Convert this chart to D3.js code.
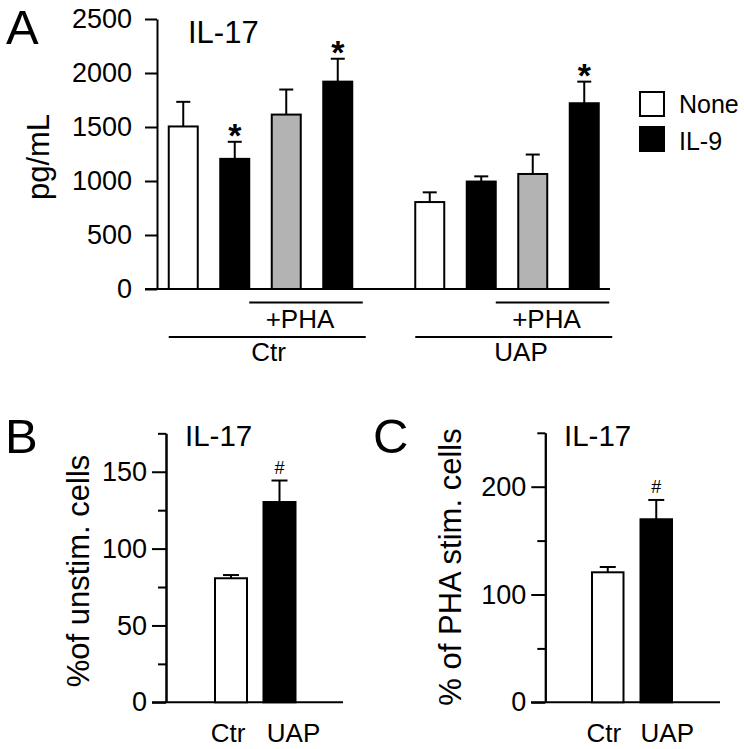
<!DOCTYPE html>
<html>
<head>
<meta charset="utf-8">
<script src="https://cdn.jsdelivr.net/npm/d3@7"></script>
<style>
  html, body { margin: 0; padding: 0; background: #fff; }
  svg { display: block; }
  text { font-family: "Liberation Sans", Arial, Helvetica, sans-serif; fill: #000; }
</style>
</head>
<body>
<svg id="chart" width="744" height="749"></svg>
<script>
// ---------- DATA ----------
// Panel A
const groupsA = ["Ctr", "UAP"];
const conditionsA = ["None", "IL-9", "PHA", "PHA+IL-9"];
const meansA = [1505, 1205, 1615, 1920, 805, 995, 1065, 1720];
const errorsA = [228, 158, 232, 212, 90, 48, 180, 200];
const starsA = [false, true, false, true, false, false, false, true];
const fillKeyA = ["none", "il9", "pha", "il9", "none", "il9", "pha", "il9"];
const ticksA = [0, 500, 1000, 1500, 2000, 2500];
const legendLabels = ["None", "IL-9"];

// Panel B
const categoriesB = ["Ctr", "UAP"];
const meansB = [80.7, 130.3];
const errorsB = [2.1, 14.0];
const marksB = ["", "#"];
const majorTicksB = [0, 50, 100, 150];
const minorTicksB = [25, 75, 125, 175];

// Panel C
const categoriesC = ["Ctr", "UAP"];
const meansC = [120.6, 169.8];
const errorsC = [4.9, 17.9];
const marksC = ["", "#"];
const majorTicksC = [0, 100, 200];
const minorTicksC = [50, 150, 250];

// ---------- STYLE ----------
const colors = { none: "#ffffff", il9: "#000000", pha: "#b3b3b3" };
const svg = d3.select("#chart");
const SW = 2;
const fmt = d3.format("d");

function styleAxis(g, fontSize) {
  g.attr("font-size", fontSize).attr("font-family", "Liberation Sans, Arial, sans-serif");
  g.selectAll("path.domain").attr("stroke", "#000").attr("stroke-width", SW);
  g.selectAll(".tick line").attr("stroke", "#000").attr("stroke-width", SW);
  g.selectAll(".tick text").attr("font-size", fontSize).attr("fill", "#000");
}

// ---------- PANEL A ----------
(function () {
  const axisX = 157, y0 = 289, yTop = 19;
  const y = d3.scaleLinear().domain([0, 2500]).range([y0, yTop]);
  const xGroup = d3.scaleBand().domain(groupsA).range([157.5, 157.5 + 2 * 246.5]);
  const xInner = d3.scaleBand().domain(conditionsA).range([0, 206]);
  const barW = 29;
  const cx = i => xGroup(groupsA[Math.floor(i / 4)]) + xInner(conditionsA[i % 4]) + xInner.bandwidth() / 2;

  const gy = svg.append("g").attr("transform", `translate(${axisX},0)`)
    .call(d3.axisLeft(y).tickValues(ticksA).tickFormat(fmt).tickSize(12).tickPadding(13).tickSizeOuter(0));
  styleAxis(gy, 27);

  // x baseline
  svg.append("line").attr("x1", 145).attr("x2", 610).attr("y1", y(0)).attr("y2", y(0))
    .attr("stroke", "#000").attr("stroke-width", SW);

  const idx = d3.range(meansA.length);
  // error bars
  idx.forEach(i => {
    const c = cx(i);
    svg.append("line").attr("x1", c).attr("x2", c).attr("y1", y(meansA[i])).attr("y2", y(meansA[i] + errorsA[i]))
      .attr("stroke", "#000").attr("stroke-width", SW);
    svg.append("line").attr("x1", c - 7).attr("x2", c + 7).attr("y1", y(meansA[i] + errorsA[i])).attr("y2", y(meansA[i] + errorsA[i]))
      .attr("stroke", "#000").attr("stroke-width", SW);
  });
  svg.selectAll("rect.barA").data(idx).join("rect").attr("class", "barA")
    .attr("x", i => cx(i) - barW / 2).attr("width", barW)
    .attr("y", i => y(meansA[i])).attr("height", i => y(0) - y(meansA[i]))
    .attr("fill", i => colors[fillKeyA[i]]).attr("stroke", "#000").attr("stroke-width", SW);
  // stars
  idx.filter(i => starsA[i]).forEach(i => {
    svg.append("text").attr("x", cx(i)).attr("y", y(meansA[i] + errorsA[i]) + 5)
      .attr("text-anchor", "middle").attr("font-size", 34).attr("font-weight", "bold").text("*");
  });

  // brackets
  groupsA.forEach((g, gi) => {
    const c0 = cx(gi * 4), c1 = cx(gi * 4 + 1), c2 = cx(gi * 4 + 2), c3 = cx(gi * 4 + 3);
    svg.append("line").attr("x1", c1 + barW / 2).attr("x2", c3 + 25).attr("y1", 302.5).attr("y2", 302.5)
      .attr("stroke", "#000").attr("stroke-width", SW);
    svg.append("text").attr("x", (c2 + c3) / 2 - 12).attr("y", 328).attr("text-anchor", "middle")
      .attr("font-size", 26).text("+PHA");
    svg.append("line").attr("x1", c0 - barW / 2).attr("x2", c3 + 28).attr("y1", 337).attr("y2", 337)
      .attr("stroke", "#000").attr("stroke-width", SW);
    svg.append("text").attr("x", (c1 + c2) / 2 + (gi === 0 ? 8 : 14)).attr("y", 361).attr("text-anchor", "middle")
      .attr("font-size", 26).text(g);
  });

  // labels
  svg.append("text").attr("x", 6).attr("y", 43.5).attr("font-size", 49).text("A");
  svg.append("text").attr("x", 188).attr("y", 43).attr("font-size", 31).text("IL-17");
  svg.append("text").attr("transform", "translate(49,157) rotate(-90)").attr("text-anchor", "middle")
    .attr("font-size", 31).text("pg/mL");

  // legend
  const leg = svg.append("g");
  legendLabels.forEach((l, i) => {
    leg.append("rect").attr("x", 640).attr("y", 92 + i * 35).attr("width", 24).attr("height", 24)
      .attr("fill", i === 0 ? colors.none : colors.il9).attr("stroke", "#000").attr("stroke-width", SW);
    leg.append("text").attr("x", 679).attr("y", 113 + i * 36.5).attr("font-size", 25).text(l);
  });
})();

// ---------- PANELS B & C ----------
function smallPanel(opts) {
  const y = d3.scaleLinear().domain([0, opts.max]).range([opts.y0, opts.y0 - opts.max * opts.pxPerUnit]);
  const x = d3.scaleBand().domain(opts.cats).range([opts.bandStart, opts.bandStart + 2 * 48.5]);
  const cx = c => x(c) + x.bandwidth() / 2;

  const gMinor = svg.append("g").attr("transform", `translate(${opts.axisX},0)`)
    .call(d3.axisLeft(y).tickValues(opts.minor).tickSize(8).tickFormat("").tickSizeOuter(0));
  styleAxis(gMinor, 27);
  const gMajor = svg.append("g").attr("transform", `translate(${opts.axisX},0)`)
    .call(d3.axisLeft(y).tickValues(opts.major).tickFormat(fmt).tickSize(14).tickPadding(5).tickSizeOuter(0));
  styleAxis(gMajor, 27);

  svg.append("line").attr("x1", opts.xStart).attr("x2", opts.xEnd).attr("y1", y(0)).attr("y2", y(0))
    .attr("stroke", "#000").attr("stroke-width", SW);

  opts.cats.forEach((c, i) => {
    const top = y(opts.means[i] + opts.errs[i]);
    svg.append("line").attr("x1", cx(c)).attr("x2", cx(c)).attr("y1", y(opts.means[i])).attr("y2", top)
      .attr("stroke", "#000").attr("stroke-width", SW);
    svg.append("line").attr("x1", cx(c) - 8).attr("x2", cx(c) + 8).attr("y1", top).attr("y2", top)
      .attr("stroke", "#000").attr("stroke-width", SW);
    svg.append("rect").attr("x", cx(c) - opts.barW / 2).attr("width", opts.barW)
      .attr("y", y(opts.means[i])).attr("height", y(0) - y(opts.means[i]))
      .attr("fill", i === 0 ? colors.none : colors.il9).attr("stroke", "#000").attr("stroke-width", SW);
    if (opts.marks[i]) {
      svg.append("text").attr("x", cx(c)).attr("y", top - 7).attr("text-anchor", "middle")
        .attr("font-size", 18).text(opts.marks[i]);
    }
    svg.append("text").attr("x", cx(c) + opts.labelOffsets[i]).attr("y", 742).attr("text-anchor", "middle")
      .attr("font-size", 26).text(c);
  });

  svg.append("text").attr("x", opts.letterX).attr("y", 453).attr("font-size", 49).text(opts.letter);
  svg.append("text").attr("x", opts.titleX).attr("y", 445.5).attr("font-size", 29.5).text("IL-17");
  svg.append("text").attr("transform", `translate(${opts.ylabX},${opts.ylabY}) rotate(-90)`)
    .attr("text-anchor", "middle").attr("font-size", 31).text(opts.ylab);
}

smallPanel({
  cats: categoriesB, means: meansB, errs: errorsB, marks: marksB,
  max: 175, major: majorTicksB, minor: minorTicksB,
  y0: 702.3, pxPerUnit: 1.537, axisX: 166, xStart: 152, xEnd: 343,
  bandStart: 206.75, barW: 32, labelOffsets: [-3, 14],
  letter: "B", letterX: 5, titleX: 185, ylab: "%of unstim. cells", ylabX: 89, ylabY: 571
});

smallPanel({
  cats: categoriesC, means: meansC, errs: errorsC, marks: marksC,
  max: 250, major: majorTicksC, minor: minorTicksC,
  y0: 702.3, pxPerUnit: 1.078, axisX: 545.3, xStart: 531, xEnd: 720,
  bandStart: 583.5, barW: 31.5, labelOffsets: [-4, 11],
  letter: "C", letterX: 373, titleX: 564, ylab: "% of PHA stim. cells", ylabX: 461, ylabY: 567
});
</script>
</body>
</html>
